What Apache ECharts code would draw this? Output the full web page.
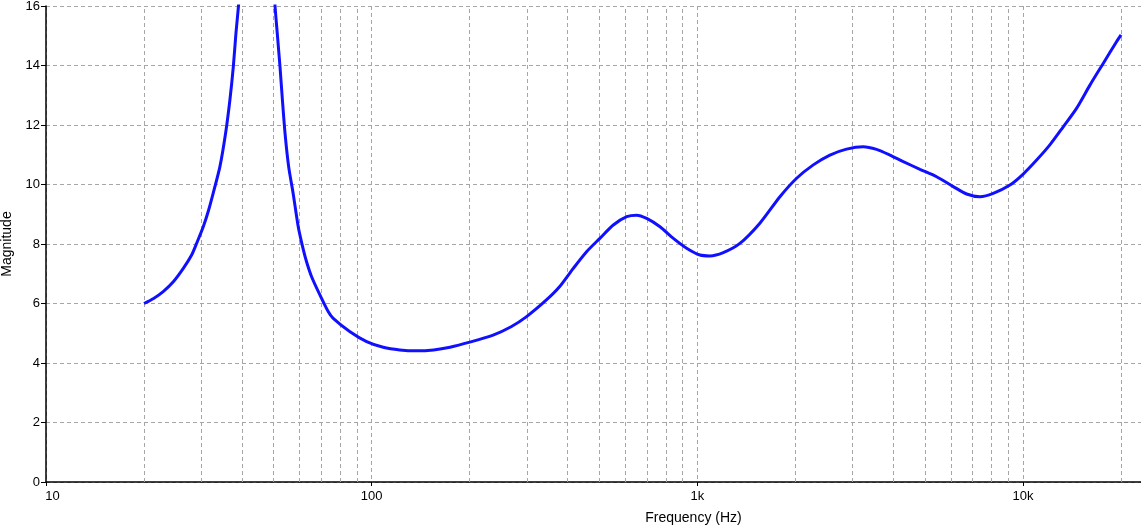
<!DOCTYPE html>
<html>
<head>
<meta charset="utf-8">
<script src="https://cdn.jsdelivr.net/npm/echarts@6/dist/echarts.min.js"></script>
<style>html,body{margin:0;padding:0;background:#fff}#c{width:1141px;height:527px}</style>
</head>
<body>
<div id="c"></div>
<script>
// Frequency (Hz) and magnitude
const freq = [20, 21.4, 22.9, 24.6, 26.4, 28.0, 29.0, 30.4, 31.5, 32.6, 34.2, 35.6, 36.7, 37.6, 38.3, 39.0,
  40.2, 41.5, 42.8, 43.8, 44.5, 45.3, 46.5, 48.0, 49.4, 50.5, 51.3, 52.3, 53.2, 54.2, 55.6, 57.4, 59.5,
  61.7, 63.2, 65.4, 69.4, 73.6, 76.2, 85.8, 96.5, 108.5, 122, 137, 155, 174, 200, 236, 268, 299, 344,
  378, 416, 457, 502, 552, 607, 651, 699, 768, 844, 927, 1019, 1093, 1201, 1351, 1556, 1793, 2018, 2270,
  2553, 2873, 3231, 3550, 3902, 4289, 4827, 5429, 6107, 6712, 7375, 8100, 9117, 10013, 11010, 12090,
  13290, 14600, 16050, 17630, 19370, 20000];
const magnitude = [6.00, 6.17, 6.40, 6.73, 7.18, 7.63, 8.02, 8.58, 9.10, 9.70, 10.6, 11.72, 12.84, 13.96, 15.08, 16.0,
  17.8, 20.5, 24.0, 27.5, 29.0, 27.5, 24.0, 20.5, 17.8, 16.0, 15.08, 13.96, 12.84, 11.72, 10.6, 9.70, 8.58,
  7.80, 7.38, 6.90, 6.28, 5.72, 5.50, 5.05, 4.72, 4.53, 4.44, 4.41, 4.44, 4.53, 4.70, 4.94, 5.22, 5.56, 6.12,
  6.57, 7.18, 7.74, 8.19, 8.64, 8.92, 8.97, 8.86, 8.58, 8.19, 7.86, 7.63, 7.60, 7.71, 8.02, 8.70, 9.59, 10.21, 10.66,
  10.99, 11.19, 11.27, 11.18, 10.99, 10.77, 10.51, 10.26, 9.93, 9.68, 9.59, 9.70, 9.98, 10.35, 10.82, 11.33,
  11.94, 12.56, 13.34, 14.07, 14.80, 15.03];
const decades = [10, 100, 1000, 10000];
const decadeLabels = {10: '10', 100: '100', 1000: '1k', 10000: '10k'};
const yTicks = [0, 2, 4, 6, 8, 10, 12, 14, 16];

const X_MAX = 23030;
const gridColor = '#a6a6a6';
const dash = [4, 3];

const minorLines = [];
decades.forEach(d => {
  for (let k = 2; k <= 9; k++) {
    if (k * d <= X_MAX) minorLines.push({ xAxis: k * d });
  }
});

const chart = echarts.init(document.getElementById('c'), null, { renderer: 'canvas' });
chart.setOption({
  animation: false,
  backgroundColor: '#ffffff',
  grid: { left: 46, right: 0, top: 6, bottom: 45, containLabel: false, outerBoundsMode: 'none' },
  xAxis: {
    type: 'log',
    logBase: 10,
    min: 10,
    max: X_MAX,
    name: 'Frequency (Hz)',
    nameLocation: 'middle',
    nameGap: 29,
    nameTextStyle: { fontFamily: 'Liberation Sans', fontSize: 14, color: '#000', padding: [0, 0, 0, 200] },
    axisLine: { lineStyle: { color: '#000', width: 1.5 } },
    axisTick: { show: true, length: 4, lineStyle: { color: '#000' } },
    axisLabel: {
      fontFamily: 'Liberation Sans', fontSize: 13, color: '#000', margin: 8,
      showMaxLabel: false,
      formatter: v => {
        const r = Math.round(v);
        if (r === 10) return '{first|10}';
        return decadeLabels[r] || '';
      },
      rich: { first: { fontFamily: 'Liberation Sans', fontSize: 13, color: '#000', padding: [0, 0, 0, 13] } }
    },
    splitLine: { show: true, lineStyle: { color: gridColor, type: dash, width: 1 } }
  },
  yAxis: {
    type: 'value',
    min: yTicks[0],
    max: yTicks[yTicks.length - 1],
    interval: 2,
    name: 'Magnitude',
    nameLocation: 'middle',
    nameGap: 30,
    nameTextStyle: { fontFamily: 'Liberation Sans', fontSize: 14, color: '#000' },
    axisLine: { show: true, lineStyle: { color: '#000', width: 1.5 } },
    axisTick: { show: true, length: 5, lineStyle: { color: '#000' } },
    axisLabel: { fontFamily: 'Liberation Sans', fontSize: 13, color: '#000', margin: 6 },
    splitLine: { show: true, lineStyle: { color: gridColor, type: dash, width: 1 } }
  },
  series: [{
    type: 'line',
    data: freq.map((f, i) => [f, magnitude[i]]),
    showSymbol: false,
    smooth: 0.25,
    clip: true,
    lineStyle: { color: '#1010ff', width: 3 },
    itemStyle: { color: '#1010ff' },
    z: 5,
    markLine: {
      silent: true,
      symbol: ['none', 'none'],
      label: { show: false },
      animation: false,
      lineStyle: { color: gridColor, type: dash, width: 1 },
      emphasis: { disabled: true },
      data: minorLines,
      z: 1
    }
  }]
});
</script>
</body>
</html>
